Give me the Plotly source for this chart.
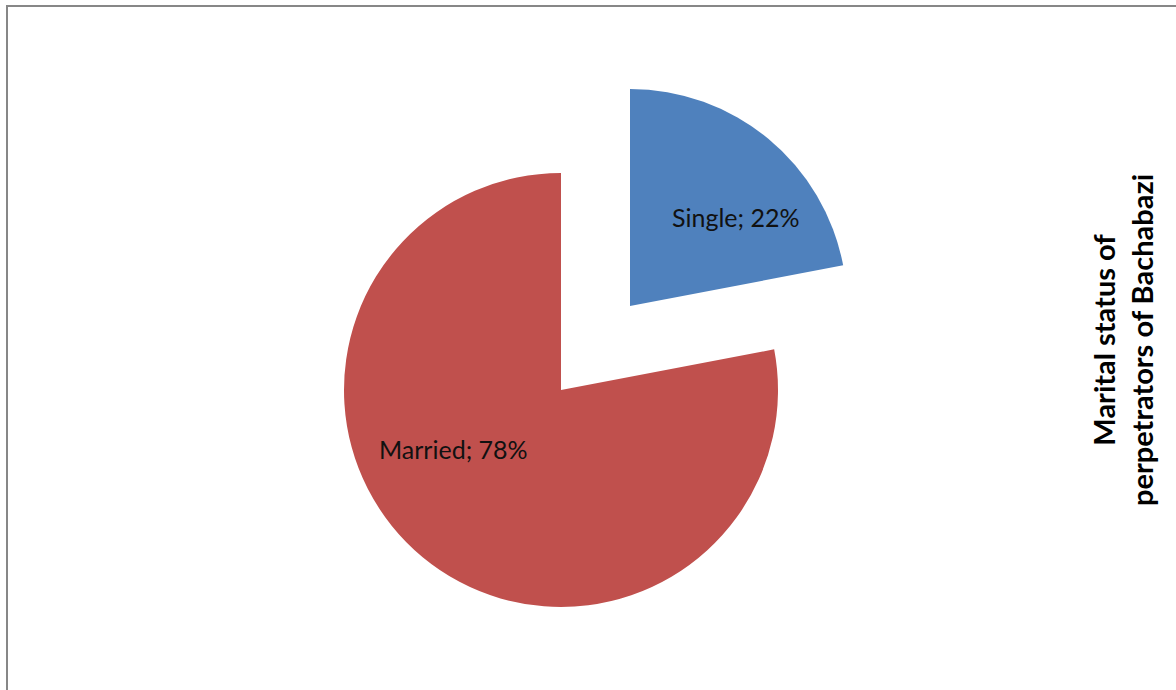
import plotly.graph_objects as go

# Marital status of perpetrators (percent)
labels = ["Single", "Married"]
values = [22, 78]
colors = ["#4F81BD", "#C0504D"]
title_lines = ["Marital status of", "perpetrators of Bachabazi"]

W, H = 1176, 690
R = 217                      # pie radius in px
CENTER = (561, 390)          # centre of the main pie
EXPLODE = (69, -84)          # offset of the exploded slice in px


def domain_for(cx, cy, r):
    return dict(
        x=[(cx - r) / W, (cx + r) / W],
        y=[1 - (cy + r) / H, 1 - (cy - r) / H],
    )


def pie_showing(index, cx, cy):
    slice_colors = [c if i == index else "rgba(0,0,0,0)" for i, c in enumerate(colors)]
    return go.Pie(
        labels=labels,
        values=values,
        sort=False,
        direction="clockwise",
        rotation=0,
        marker=dict(colors=slice_colors, line=dict(width=0)),
        textinfo="none",
        hoverinfo="skip",
        showlegend=False,
        domain=domain_for(cx, cy, R),
    )


fig = go.Figure()
# Married slice in place, Single slice exploded out
fig.add_trace(pie_showing(1, *CENTER))
fig.add_trace(pie_showing(0, CENTER[0] + EXPLODE[0], CENTER[1] + EXPLODE[1]))

label_pos = {"Single": (735, 217), "Married": (453, 449)}
annotations = []
for lab, val in zip(labels, values):
    px, py = label_pos[lab]
    annotations.append(dict(
        x=px / W, y=1 - py / H, xref="paper", yref="paper",
        text=f"{lab}; {val}%", showarrow=False,
        font=dict(family="Lato", size=25, color="#111111"),
        xanchor="center", yanchor="middle",
    ))

annotations.append(dict(
    x=1122 / W, y=1 - 340 / H, xref="paper", yref="paper",
    text="<br>".join(title_lines), showarrow=False, textangle=-90,
    font=dict(family="Lato", size=29, color="#000000", weight="bold"),
    xanchor="center", yanchor="middle", align="center",
))

fig.update_layout(
    width=W, height=H,
    margin=dict(l=0, r=0, t=0, b=0),
    paper_bgcolor="white",
    plot_bgcolor="white",
    annotations=annotations,
    shapes=[dict(
        type="rect", xref="paper", yref="paper",
        x0=7 / W, x1=1.05, y0=-0.05, y1=1 - 6 / H,
        line=dict(color="#878787", width=2),
        fillcolor="rgba(0,0,0,0)",
    )],
)

fig.write_html("out.html")
